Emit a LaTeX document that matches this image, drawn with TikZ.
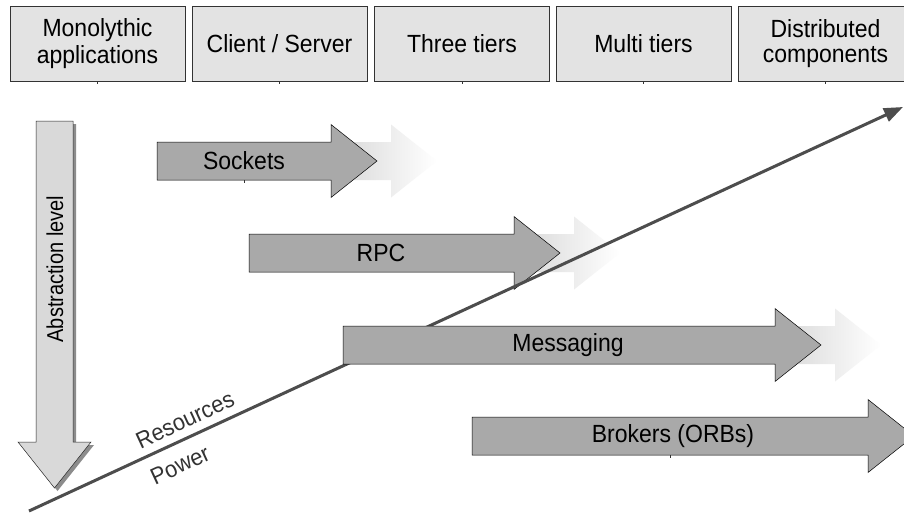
\documentclass[tikz,border=0pt]{standalone}
\usepackage{fontspec}
\setmainfont{Liberation Sans}
\usetikzlibrary{arrows.meta}
\definecolor{boxfill}{HTML}{E3E3E3}
\definecolor{arrfill}{HTML}{A9A9A9}
\definecolor{vfill}{HTML}{D9D9D9}
\definecolor{linegray}{HTML}{4D4D4D}
\definecolor{txtgray}{HTML}{333333}
\newcommand{\vs}[2]{\scalebox{1}[#1]{\shortstack{#2}}}
\newcommand{\hArrow}[3]{%
  \filldraw[arrowbody] ({#1},{#3-19}) -- ({#2},{#3-19}) -- ({#2},{#3-36.5}) -- ({#2+46},{#3}) -- ({#2},{#3+36.5}) -- ({#2},{#3+19}) -- ({#1},{#3+19}) -- cycle;}
\newcommand{\ghostArrow}[2]{%
  \shade[left color=black!16, right color=white] ({#1},{#2-19}) -- ({#1+60},{#2-19}) -- ({#1+60},{#2-36.5}) -- ({#1+106},{#2}) -- ({#1+60},{#2+36.5}) -- ({#1+60},{#2+19}) -- ({#1},{#2+19}) -- cycle;}
\begin{document}
\begin{tikzpicture}[x=1pt,y=-1pt,
  tier/.style={draw=black!80, line width=0.8pt, fill=boxfill, minimum width=175pt, minimum height=75pt, align=center, inner sep=0pt, font=\fontsize{23}{25}\selectfont},
  arrowbody/.style={fill=arrfill, draw=black, line width=0.5pt},
  lbl/.style={font=\fontsize{23}{26}\selectfont, inner sep=0pt},
  tick/.style={draw=black!80, line width=0.7pt},
  powerline/.style={draw=linegray, line width=3pt, -{Triangle[length=19pt,width=14pt]}}]
\useasboundingbox (0,0) rectangle (904,512);
\clip (0,0) rectangle (904,512);
\fill[white] (0,0) rectangle (904,512);
% tiers
\node[tier] (t1) at (97.5,43.5) {\vs{1.08}{Monolythic\\[0.8pt]applications}};
\node[tier] (t2) at (279.5,43.5) {\vs{1.08}{Client / Server}};
\node[tier] (t3) at (462,43.5) {\vs{1.08}{Three tiers}};
\node[tier] (t4) at (643.5,43.5) {\vs{1.08}{Multi tiers}};
\node[tier] (t5) at (825.5,43.5) {\vs{1.08}{Distributed\\[5.6pt]components}};
\foreach \n in {t1,t2,t3,t4,t5} \draw[tick] (\n.south) -- ++(0,3);
% abstraction arrow
\fill[black!45] (39,124) -- (76,124) -- (76,445) -- (94,445) -- (57.5,491) -- (21,445) -- (39,445) -- cycle;
\filldraw[fill=vfill, draw=black!85, line width=0.5pt] (36,121) -- (73,121) -- (73,442) -- (91,442) -- (54.5,488) -- (18,442) -- (36,442) -- cycle;
\node[font=\fontsize{20}{24}\selectfont, rotate=90, inner sep=0pt] (abs) at (55,269) {\vs{1.15}{Abstraction level}};
% sockets and RPC
\ghostArrow{331}{161}
\hArrow{157}{331}{161}
\node[lbl] (sock) at (244,161) {\vs{1.08}{Sockets}};
\draw[tick] (244,180) -- ++(0,2.5);
\ghostArrow{514}{253}
\hArrow{249}{514}{253}
\node[lbl] (rpc) at (381,253) {\vs{1.08}{RPC}};
% power line
\coordinate (ls) at (29,511);
\coordinate (le) at (903,107);
\draw[powerline] (ls) -- (le);
\node[font=\fontsize{22}{24}\selectfont, text=txtgray, rotate=24.8, inner sep=0pt] (res) at (185,420) {\vs{1.06}{Resources}};
\node[font=\fontsize{22}{24}\selectfont, text=txtgray, rotate=24.8, inner sep=0pt] (pow) at (180,465) {\vs{1.06}{Power}};
% messaging and brokers
\ghostArrow{775}{345}
\hArrow{343}{775}{345}
\node[lbl] (msg) at (568,345) {\vs{1.08}{Messaging}};
\hArrow{472}{868}{436}
\node[lbl] (brk) at (673,436) {\vs{1.08}{Brokers (ORBs)}};
\draw[tick] (670,455) -- ++(0,2.5);
\end{tikzpicture}
\end{document}
